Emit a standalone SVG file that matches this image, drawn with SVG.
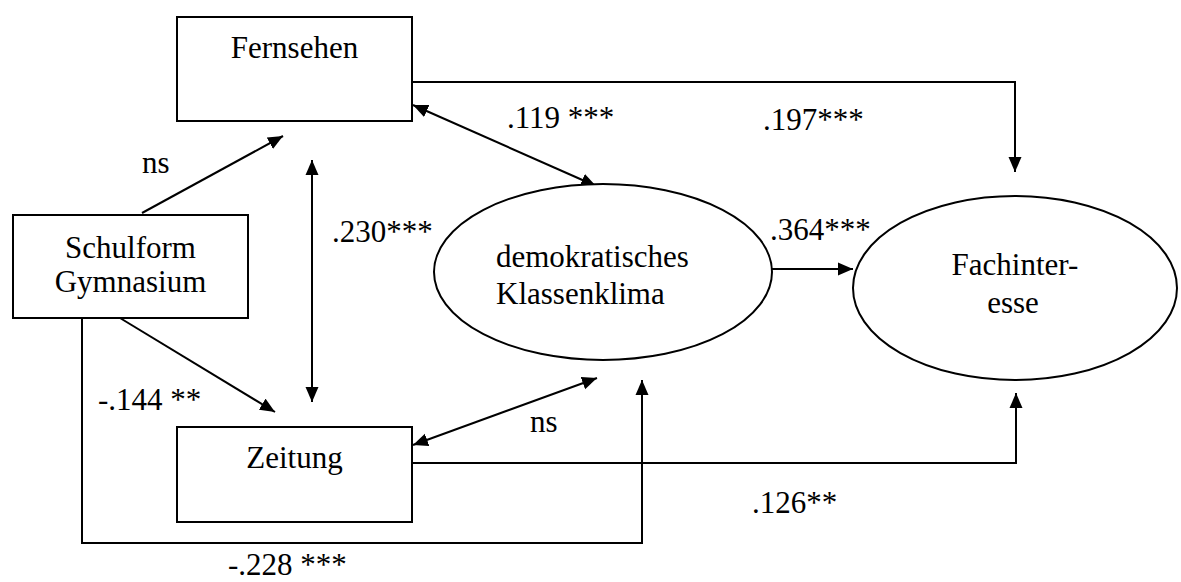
<svg xmlns="http://www.w3.org/2000/svg" width="1181" height="582" viewBox="0 0 1181 582">
<style>
text{font-family:"Liberation Serif",Tinos,"Times New Roman","DejaVu Serif",serif;font-size:31px;fill:#000}
.box{fill:#fff;stroke:#000;stroke-width:2}
.c{fill:none;stroke:#000;stroke-width:2}
.m{text-anchor:middle}
</style>
<defs>
<marker id="ah" markerUnits="userSpaceOnUse" markerWidth="16" markerHeight="14" refX="15" refY="6.5" orient="auto-start-reverse" viewBox="0 0 16 13">
<path d="M0,0 L15,6.5 L0,13 z" fill="#000"/>
</marker>
</defs>
<rect width="1181" height="582" fill="#fff"/>
<g id="connectors">
<polyline class="c" points="412,82 1015,82 1015,172" marker-end="url(#ah)"/>
<line class="c" x1="413" y1="105" x2="596" y2="186" marker-start="url(#ah)" marker-end="url(#ah)"/>
<line class="c" x1="142" y1="213" x2="283" y2="136" marker-end="url(#ah)"/>
<line class="c" x1="312" y1="160" x2="312" y2="402" marker-start="url(#ah)" marker-end="url(#ah)"/>
<line class="c" x1="120" y1="318" x2="275" y2="412" marker-end="url(#ah)"/>
<line class="c" x1="772" y1="269" x2="853" y2="269" marker-end="url(#ah)"/>
<line class="c" x1="413" y1="445" x2="597" y2="378" marker-start="url(#ah)" marker-end="url(#ah)"/>
<polyline class="c" points="412,463 1016,463 1016,393" marker-end="url(#ah)"/>
<polyline class="c" points="82,318 82,543 642,543 642,380" marker-end="url(#ah)"/>
<text x="142" y="173">ns</text>
<text x="507" y="128">.119 ***</text>
<text x="763" y="130">.197***</text>
<text x="332" y="242">.230***</text>
<text x="770" y="240">.364***</text>
<text x="98" y="410">-.144 **</text>
<text x="530" y="432">ns</text>
<text x="752" y="513">.126**</text>
<text x="228" y="575">-.228 ***</text>
</g>
<g id="fernsehen">
<rect class="box" x="177" y="17" width="235" height="104"/>
<text class="m" x="294.5" y="58">Fernsehen</text>
</g>
<g id="schulform">
<rect class="box" x="13" y="215" width="235" height="103"/>
<text class="m" x="130.5" y="258">Schulform</text>
<text class="m" x="130.5" y="292">Gymnasium</text>
</g>
<g id="zeitung">
<rect class="box" x="177" y="427" width="235" height="95"/>
<text class="m" x="294.5" y="468">Zeitung</text>
</g>
<g id="klassenklima">
<ellipse class="box" cx="603" cy="272" rx="169" ry="88"/>
<text x="496" y="267">demokratisches</text>
<text x="496" y="304">Klassenklima</text>
</g>
<g id="fachinteresse">
<ellipse class="box" cx="1015" cy="288" rx="162" ry="92"/>
<text class="m" x="1015" y="275">Fachinter-</text>
<text class="m" x="1013" y="313">esse</text>
</g>
</svg>
